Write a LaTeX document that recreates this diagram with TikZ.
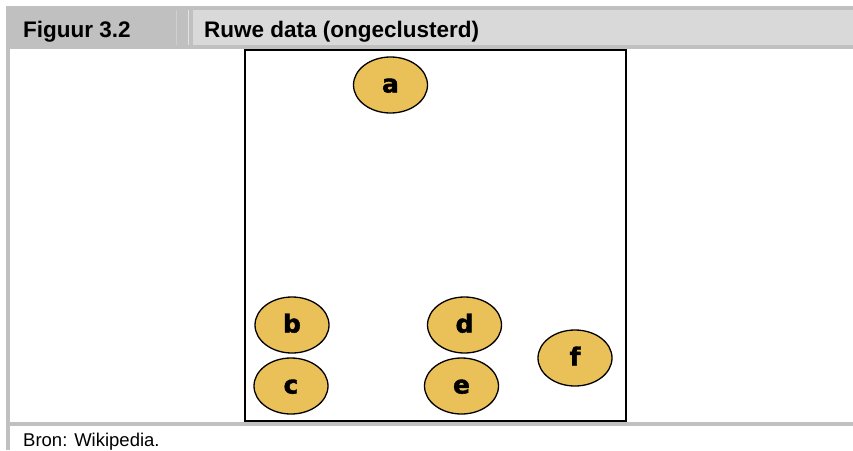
\documentclass[tikz,border=0pt]{standalone}
\usepackage{fontspec}
\setmainfont{Liberation Sans}
\newfontfamily\letterfont[BoldFeatures={FakeBold=1.6}]{DejaVu Sans}
\usetikzlibrary{shapes.geometric}
\definecolor{hdrdark}{RGB}{192,192,192}
\definecolor{hdrlight}{RGB}{217,217,217}
\definecolor{hdrline}{RGB}{207,207,207}
\definecolor{hdrline2}{RGB}{226,226,226}
\definecolor{gold}{RGB}{234,192,88}
\begin{document}
\begin{tikzpicture}[x=1pt,y=-1pt,
  datapt/.style={ellipse, draw=black, line width=1.3pt, fill=gold,
    minimum width=74pt, minimum height=56pt, inner sep=0pt,
    text height=15pt, text depth=0pt,
    font=\letterfont\bfseries\fontsize{25}{25}\selectfont},
  hdr/.style={anchor=base west, inner sep=0pt, font=\bfseries\fontsize{22.5}{22.5}\selectfont},
]
\fill[white] (0,0) rectangle (853,450);
\useasboundingbox (0,0) rectangle (853,450);
% header band
\fill[hdrdark] (6,6) rectangle (853,48.5);
\fill[hdrlight] (192.5,9.5) rectangle (853,44.7);
\draw[hdrline, line width=0.8pt] (176,9.5) -- (176,44.7);
\draw[hdrline2, line width=0.8pt] (188.3,9.5) -- (188.3,44.7);
% left border and bottom line
\fill[hdrdark] (6,48.5) rectangle (10,450);
\fill[hdrdark] (6,421.7) rectangle (853,425.7);
% texts
\node[hdr] (fig) at (23,37) {Figuur 3.2};
\node[hdr] (title) at (204,37) {Ruwe data (ongeclusterd)};
\node[anchor=base west, inner sep=0pt, font=\fontsize{18.5}{18.5}\selectfont] (src) at (23,446.5) {Bron: Wikipedia.};
% frame
\draw[line width=2pt] (245,50) rectangle (626,420.5);
% data points
\node[datapt] (a) at (390.5,85) {a};
\node[datapt] (b) at (292,325) {b};
\node[datapt] (c) at (291,386) {c};
\node[datapt] (d) at (464.5,325) {d};
\node[datapt] (e) at (461.5,386) {e};
\node[datapt] (f) at (575,358) {f};
\end{tikzpicture}
\end{document}
